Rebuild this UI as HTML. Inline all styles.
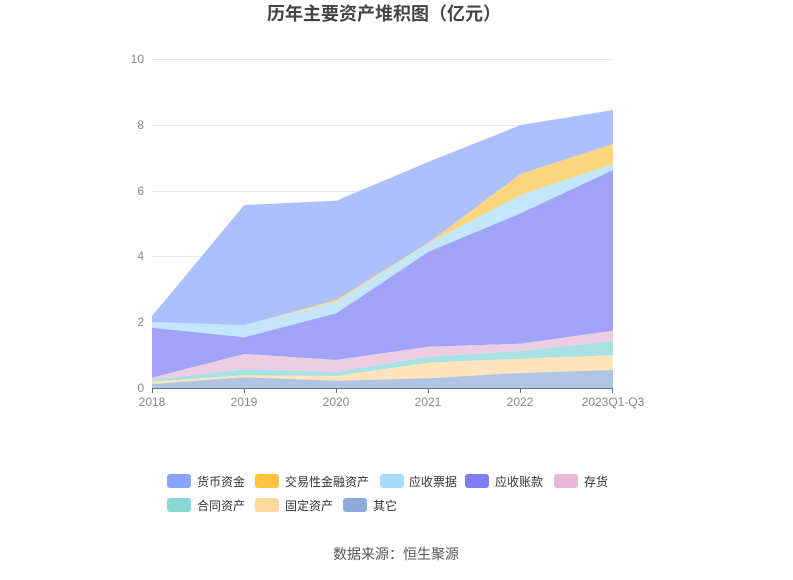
<!DOCTYPE html>
<html><head><meta charset="utf-8"><style>
body{margin:0;background:#fff;width:793px;height:575px;overflow:hidden;font-family:"Liberation Sans","Noto Sans CJK SC",sans-serif}
</style></head><body>
<svg width="793" height="575" xmlns="http://www.w3.org/2000/svg" font-family="Liberation Sans, Noto Sans CJK SC, sans-serif">
<text x="384" y="20" text-anchor="middle" font-size="18" font-weight="bold" fill="#444">历年主要资产堆积图（亿元）</text>
<g stroke="#e3e6ee" stroke-width="1">
<line x1="152" x2="613" y1="59.5" y2="59.5"/><line x1="152" x2="613" y1="125.5" y2="125.5"/><line x1="152" x2="613" y1="191.5" y2="191.5"/><line x1="152" x2="613" y1="256.5" y2="256.5"/><line x1="152" x2="613" y1="322.5" y2="322.5"/>
</g>
<g font-size="12" fill="#888" text-anchor="end">
<text x="144" y="63">10</text><text x="144" y="129">8</text><text x="144" y="195">6</text><text x="144" y="260">4</text><text x="144" y="326">2</text><text x="144" y="392">0</text>
</g>
<polygon fill="#abc0fd" points="152,316 244.2,205 336.4,200.7 428.6,161.7 520.8,125 613,110 613,144 520.8,174 428.6,242.7 336.4,300 244.2,325.3 152,322"/>
<polygon fill="#fdd57e" points="152,322 244.2,325.3 336.4,300 428.6,242.7 520.8,174 613,144 613,164 520.8,195 428.6,243.3 336.4,301.7 244.2,325.3 152,322"/>
<polygon fill="#c3e6fa" points="152,322 244.2,325.3 336.4,301.7 428.6,243.3 520.8,195 613,164 613,170 520.8,213.3 428.6,251.7 336.4,313.3 244.2,337.3 152,327.7"/>
<polygon fill="#a0a3f7" points="152,327.7 244.2,337.3 336.4,313.3 428.6,251.7 520.8,213.3 613,170 613,330.7 520.8,343.7 428.6,346.7 336.4,360 244.2,354 152,377.7"/>
<polygon fill="#edcde3" points="152,377.7 244.2,354 336.4,360 428.6,346.7 520.8,343.7 613,330.7 613,341 520.8,351 428.6,356.7 336.4,372 244.2,369.3 152,380"/>
<polygon fill="#a8e1e1" points="152,380 244.2,369.3 336.4,372 428.6,356.7 520.8,351 613,341 613,355.3 520.8,358.7 428.6,362.7 336.4,376 244.2,375.3 152,381.7"/>
<polygon fill="#fde4bc" points="152,381.7 244.2,375.3 336.4,376 428.6,362.7 520.8,358.7 613,355.3 613,370 520.8,373 428.6,378.3 336.4,380.7 244.2,377.3 152,384"/>
<polygon fill="#b0c4e4" points="152,384 244.2,377.3 336.4,380.7 428.6,378.3 520.8,373 613,370 613,388 152,388"/>
<g stroke="#6e7079" stroke-width="1">
<line x1="152" x2="613" y1="388.5" y2="388.5"/>
<line x1="152.5" x2="152.5" y1="388" y2="393"/><line x1="244.5" x2="244.5" y1="388" y2="393"/><line x1="336.5" x2="336.5" y1="388" y2="393"/><line x1="428.5" x2="428.5" y1="388" y2="393"/><line x1="520.5" x2="520.5" y1="388" y2="393"/><line x1="612.5" x2="612.5" y1="388" y2="393"/>
</g>
<g font-size="12" fill="#888" text-anchor="middle">
<text x="152" y="406">2018</text><text x="244" y="406">2019</text><text x="336" y="406">2020</text><text x="428" y="406">2021</text><text x="520" y="406">2022</text><text x="613" y="406">2023Q1-Q3</text>
</g>
<g font-size="12" fill="#333">
<rect x="167" y="474" width="24" height="14" rx="3" fill="#8aa4fb"/><text x="197" y="486">货币资金</text>
<rect x="255" y="474" width="24" height="14" rx="3" fill="#fdc23e"/><text x="285" y="486">交易性金融资产</text>
<rect x="380" y="474" width="24" height="14" rx="3" fill="#a6dcfb"/><text x="409" y="486">应收票据</text>
<rect x="465" y="474" width="24" height="14" rx="3" fill="#7d7ef5"/><text x="495" y="486">应收账款</text>
<rect x="554" y="474" width="24" height="14" rx="3" fill="#e8b6d6"/><text x="584" y="486">存货</text>
<rect x="167" y="498" width="24" height="14" rx="3" fill="#88d8d5"/><text x="197" y="510">合同资产</text>
<rect x="255" y="498" width="24" height="14" rx="3" fill="#fdd89c"/><text x="285" y="510">固定资产</text>
<rect x="343" y="498" width="24" height="14" rx="3" fill="#8faad8"/><text x="373" y="510">其它</text>
</g>
<text x="396" y="559" text-anchor="middle" font-size="14" fill="#555">数据来源：恒生聚源</text>
</svg>
</body></html>
